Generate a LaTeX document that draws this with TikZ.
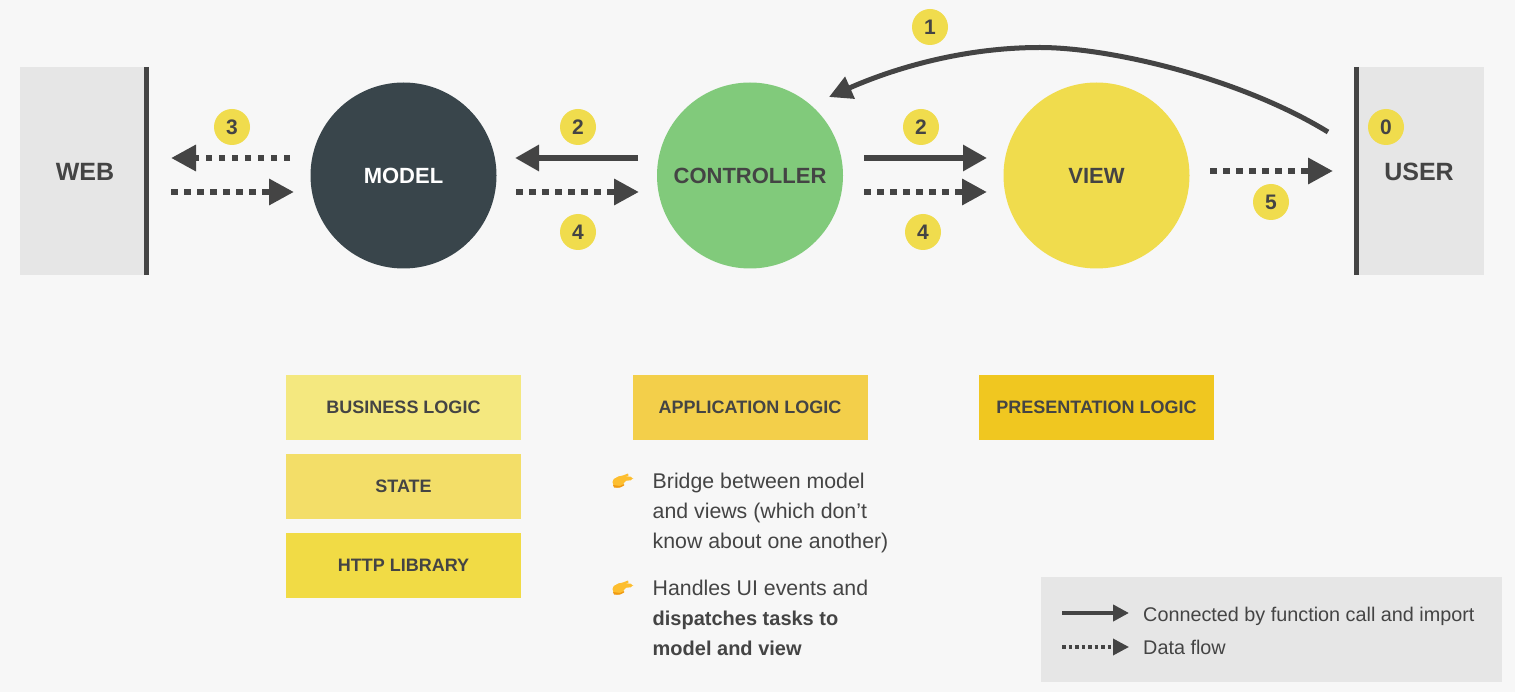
\documentclass[tikz,border=0pt]{standalone}
\usepackage{fontspec}
\setmainfont{Liberation Sans}
\usetikzlibrary{arrows.meta}
\definecolor{ink}{HTML}{444444}
\definecolor{bgc}{HTML}{F7F7F7}
\definecolor{panel}{HTML}{E6E6E6}
\definecolor{modelc}{HTML}{39454B}
\definecolor{ctrlc}{HTML}{81CA7B}
\definecolor{viewc}{HTML}{F0DC4D}
\definecolor{handc}{HTML}{FDBE2F}
\definecolor{handd}{HTML}{F09A12}
\definecolor{bizc}{HTML}{F4E87F}
\definecolor{statec}{HTML}{F3DE68}
\definecolor{httpc}{HTML}{F1DB45}
\definecolor{appc}{HTML}{F3CF4A}
\definecolor{presc}{HTML}{F0C720}
\newcommand{\lowered}[1]{\raisebox{-1pt}{#1}}
\newcommand{\lowlogic}[1]{\raisebox{-1.8pt}{#1}}
\newcommand{\boldline}[1]{{\fontsize{20}{30}\selectfont\bfseries #1}}
\newcommand{\handicon}[1]{%
  \begin{scope}[shift={(0,#1)}]
    \fill[handc,rounded corners=2pt] (612,480) -- (620,475.5) -- (624,476) -- (633,477) -- (633,480) -- (624,481) -- (624,485) -- (620,487.5) -- (614,487.5) -- cycle;
    \fill[handd] (613,485) -- (620,486) -- (624,484) -- (624,485.5) -- (620,487.5) -- (614,487.5) -- cycle;
    \fill[handc] (619,477) -- (628,473.5) -- (628.5,475.5) -- (622,478.5) -- cycle;
  \end{scope}}
\tikzset{
  x=1pt,y=-1pt,
  big/.style={circle,minimum size=186pt,inner sep=0pt,font=\fontsize{22}{26}\selectfont\bfseries},
  badge/.style={circle,fill=viewc,minimum size=36pt,inner sep=0pt,text=ink,font=\fontsize{21}{24}\selectfont\bfseries},
  sidebox/.style={fill=panel,minimum width=127pt,minimum height=208pt,inner sep=0pt},
  sidetext/.style={text=ink,font=\fontsize{25}{28}\selectfont\bfseries},
  logic/.style={minimum width=235pt,minimum height=65pt,inner sep=0pt,text=ink,font=\fontsize{18}{22}\selectfont\bfseries},
  bar/.style={draw=ink,line width=5pt},
  call/.style={draw=ink,line width=6pt,-{Triangle[length=24pt,width=25pt]}},
  curved/.style={draw=ink,line width=5pt,-{Triangle[length=23pt,width=23pt]}},
  flow/.style={draw=ink,line width=6.5pt,dash pattern=on 6.5pt off 6.5pt,-{Triangle[length=25pt,width=25pt]}},
  callsmall/.style={draw=ink,line width=4pt,-{Triangle[length=16pt,width=16pt]}},
  flowsmall/.style={draw=ink,line width=3.5pt,dash pattern=on 3.5pt off 3pt,-{Triangle[length=16pt,width=16pt]}},
  body/.style={anchor=north west,inner sep=0pt,align=left,text=ink,font=\fontsize{21.3}{30}\selectfont},
  legendtext/.style={anchor=west,inner sep=0pt,text=ink,font=\fontsize{19.8}{24}\selectfont}
}
\begin{document}
\begin{tikzpicture}
\useasboundingbox (0,0) rectangle (1515,692);
\fill[bgc] (0,0) rectangle (1515,692);
% side boxes
\node[sidebox] (web) at (83.5,171) {};
\node[sidetext] (webt) at (85,172) {WEB};
\draw[bar] ([xshift=-1pt]web.north east) -- ([xshift=-1pt]web.south east);
\node[sidebox,minimum width=129pt] (user) at (1419.5,171) {};
\node[sidetext] (usert) at (1419,172) {USER};
\draw[bar] ([xshift=1.5pt]user.north west) -- ([xshift=1.5pt]user.south west);
% circles
\node[big,fill=modelc,text=white] (model) at (403.5,175.5) {\lowered{MODEL}};
\node[big,fill=ctrlc,text=ink] (ctrl) at (750,175.5) {\lowered{CONTROLLER}};
\node[big,fill=viewc,text=ink] (view) at (1096.5,175.5) {\lowered{VIEW}};
% connector ends
\coordinate (a1) at (1328,132); \coordinate (m1) at (1040,47.5); \coordinate (b1) at (829,97);
\coordinate (a2) at (290,158);  \coordinate (b2) at (171,158);
\coordinate (a3) at (171,192);  \coordinate (b3) at (294,192);
\coordinate (a4) at (638,158);  \coordinate (b4) at (515,158);
\coordinate (a5) at (516,192);  \coordinate (b5) at (639,192);
\coordinate (a6) at (864,158);  \coordinate (b6) at (987,158);
\coordinate (a7) at (864,192);  \coordinate (b7) at (987,192);
\coordinate (a8) at (1210,171); \coordinate (b8) at (1333,171);
\draw[curved] (a1) .. controls (1240,78) and (1110,47.5) .. (m1) .. controls (960,47.5) and (890,70) .. (b1);
\draw[flow] (a2) -- (b2);
\draw[flow] (a3) -- (b3);
\draw[call] (a4) -- (b4);
\draw[flow] (a5) -- (b5);
\draw[call] (a6) -- (b6);
\draw[flow] (a7) -- (b7);
\draw[flow] (a8) -- (b8);
% badges
\node[badge] (n1) at (930,27) {1};
\node[badge] (n3) at (232,127) {3};
\node[badge] (n2a) at (578,127) {2};
\node[badge] (n4a) at (578,232) {4};
\node[badge] (n2b) at (921,127) {2};
\node[badge] (n4b) at (923,232) {4};
\node[badge] (n5) at (1271,202) {5};
\node[badge] (n0) at (1386,127) {0};
% logic boxes
\node[logic,fill=bizc] (biz) at (403.5,407.5) {\lowlogic{BUSINESS LOGIC}};
\node[logic,fill=statec] (state) at (403.5,486.5) {\lowered{STATE}};
\node[logic,fill=httpc] (http) at (403.5,565) {\lowlogic{HTTP LIBRARY}};
\node[logic,fill=appc] (app) at (750,407.5) {\lowlogic{APPLICATION LOGIC}};
\node[logic,fill=presc] (pres) at (1096.5,407.5) {\lowlogic{PRESENTATION LOGIC}};
% text
\handicon{0}
\handicon{107}
\node[body] (t1) at (652.5,473) {Bridge between model\\and views (which don’t\\know about one another)};
\node[body] (t2) at (652.5,579.5) {Handles UI events and\\\boldline{dispatches tasks to}\\\boldline{model and view}};
% legend
\node[fill=panel,minimum width=461pt,minimum height=105pt,inner sep=0pt] (legend) at (1271.5,629.5) {};
\coordinate (l1) at (1062,613); \coordinate (l2) at (1129,613);
\coordinate (l3) at (1062,647); \coordinate (l4) at (1129,647);
\draw[callsmall] (l1) -- (l2);
\draw[flowsmall] (l3) -- (l4);
\node[legendtext] (lt1) at (1143,616) {Connected by function call and import};
\node[legendtext] (lt2) at (1143,647) {Data flow};
\end{tikzpicture}
\end{document}
